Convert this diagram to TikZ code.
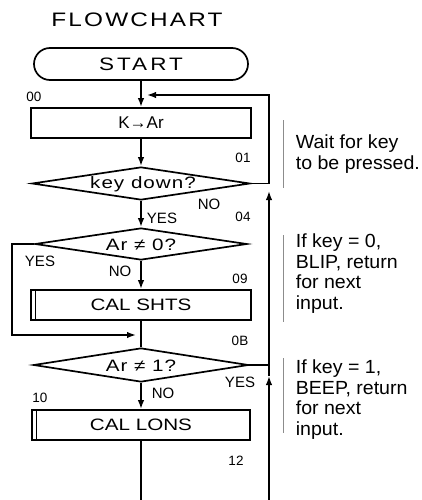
\documentclass[tikz,border=0pt]{standalone}
\usepackage{fontspec}
\setmainfont{Liberation Sans}
\newfontfamily\chartfont[FakeStretch=1.25]{Liberation Sans}
\newfontfamily\smallfont{Liberation Sans}
\newfontfamily\notefont[FakeStretch=1.03]{Liberation Sans}
\usetikzlibrary{shapes.geometric,arrows.meta}
\begin{document}
\begin{tikzpicture}[x=1pt,y=-1pt,
  line width=1.7pt,
  arr/.style={-{Latex[length=9pt,width=6.5pt]}},
  box/.style={draw, minimum width=220pt, minimum height=30pt, inner sep=0pt,
    font={\chartfont\fontsize{16.5}{17}\selectfont}},
  dia/.style={draw, diamond, inner sep=0pt},
  diatext/.style={inner sep=0pt,
    font={\chartfont\fontsize{16.5}{17}\selectfont\addfontfeature{LetterSpace=6}}},
  lbl/.style={font=\smallfont\fontsize{15}{15}\selectfont, inner sep=0pt},
  num/.style={font=\smallfont\fontsize{13.5}{14}\selectfont, inner sep=0pt},
  note/.style={font=\notefont\fontsize{19}{20.5}\selectfont, anchor=base west,
    align=left, inner sep=0pt},
  bar/.style={draw=black!45, line width=0.8pt}
]
\useasboundingbox (0,0) rectangle (422,500);

% title
\node[anchor=base, inner sep=0pt,
  font={\chartfont\fontsize{19.5}{20}\selectfont\addfontfeature{LetterSpace=11}}]
  (title) at (137,27) {FLOWCHART};

% flowchart nodes
\node[draw, rounded corners=16pt, minimum width=214pt, minimum height=32pt, inner sep=0pt,
  font={\chartfont\fontsize{18}{18}\selectfont\addfontfeature{LetterSpace=17}}]
  (start) at (141,64) {START};
\node[box, font={\smallfont\fontsize{17}{17}\selectfont}] (k) at (141,123) {K→Ar};
\node[dia, minimum width=218pt, minimum height=33pt] (kd) at (141,183.5) {};
\node[diatext] (kdt) at (143,184) {key down?};
\node[dia, minimum width=212pt, minimum height=32pt] (a0) at (141,244) {};
\node[diatext] (a0t) at (141,245) {Ar ≠ 0?};
\node[box] (cs) at (141,305) {CAL SHTS};
\node[dia, minimum width=215pt, minimum height=34pt] (a1) at (141,365) {};
\node[diatext] (a1t) at (141,366) {Ar ≠ 1?};
\node[box, minimum width=218pt] (cl) at (141,425) {CAL LONS};

% subroutine double bars
\draw[line width=1.2pt] ([xshift=5pt]cs.north west) -- ([xshift=5pt]cs.south west);
\draw[line width=1.2pt] ([xshift=5pt]cl.north west) -- ([xshift=5pt]cl.south west);

% helper coordinates
\coordinate (rtop) at (269,95);
\coordinate (loopin) at (147,95);
\coordinate (rbot) at (269,500);
\coordinate (rmid) at (269,376);
\coordinate (rtip) at (269,191);
\coordinate (lcorner) at (12,244);
\coordinate (yin) at (136,335);
\coordinate (bot) at (141,500);

% connectors
\draw[arr] (start.south) -- (k.north);
\draw[arr] (k.south) -- (kd.north);
\draw[arr] (kd.south) -- (a0.north);
\draw[arr] (a0.south) -- (cs.north);
\draw (cs.south) -- (a1.north);
\draw[arr] (a1.south) -- (cl.north);
\draw (cl.south) -- (bot);
\draw[arr] (kd.east) -| (rtop) -- (loopin);
\draw[arr] (a0.west) -- (lcorner) |- (yin);
\draw[arr] (rbot) -- (rmid);
\draw[arr] (rmid) -- (rtip);
\draw (a1.east) -- (a1.east -| rbot);

% branch labels
\node[lbl] (y1) at (162,218) {YES};
\node[lbl] (n1) at (209,204) {NO};
\node[lbl] (y2) at (40,261) {YES};
\node[lbl] (n2) at (120,271) {NO};
\node[lbl] (n3) at (163,393) {NO};
\node[lbl] (y3) at (240,382) {YES};

% address labels
\node[num] (l00) at (34,97) {00};
\node[num] (l01) at (243,158) {01};
\node[num] (l04) at (243,217) {04};
\node[num] (l09) at (240,279) {09};
\node[num] (l0B) at (240,341) {0B};
\node[num] (l10) at (40,398) {10};
\node[num] (l12) at (236,461) {12};

% notes
\draw[bar] (283,120) -- (283,188);
\node[note, anchor=north west] (w) at (295,134) {Wait for key\\to be pressed.};
\draw[bar] (283,235) -- (283,322);
\node[note, anchor=north west] (b0) at (295,233) {If key = 0,\\BLIP, return\\for next\\input.};
\draw[bar] (283,358) -- (283,433);
\node[note, anchor=north west] (b1) at (295,359) {If key = 1,\\BEEP, return\\for next\\input.};
\end{tikzpicture}
\end{document}
